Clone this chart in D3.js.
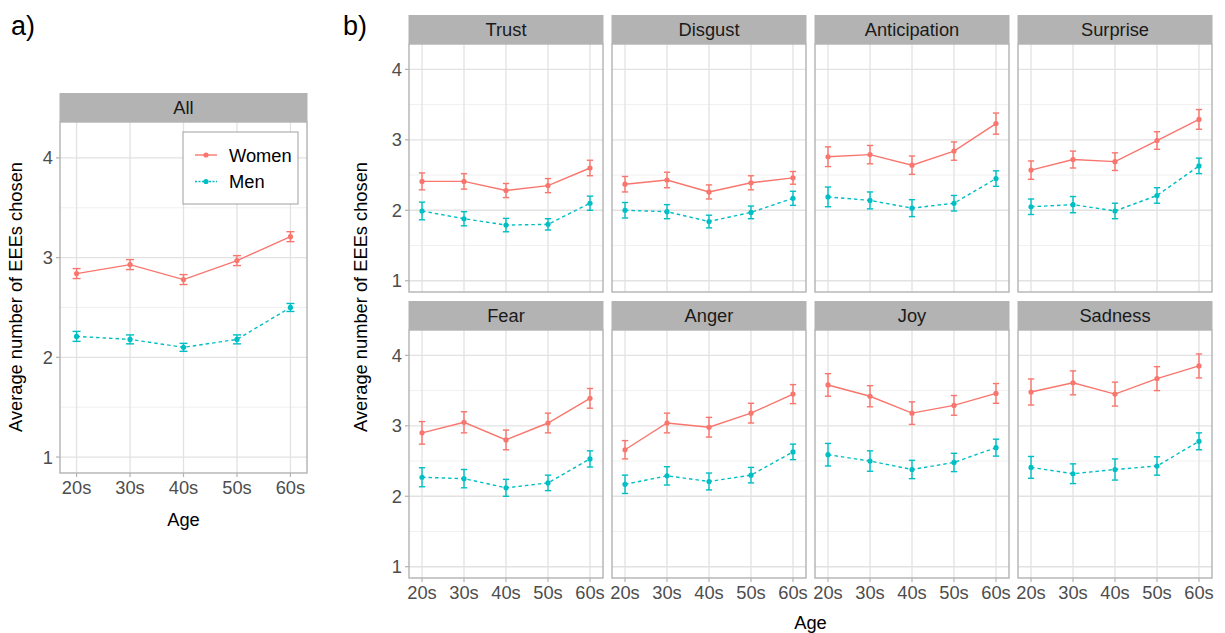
<!DOCTYPE html>
<html>
<head>
<meta charset="utf-8">
<script src="https://cdn.jsdelivr.net/npm/d3@7"></script>
<style>
  body { margin: 0; background: #fff; }
  svg text { font-family: "Liberation Sans", Arial, Helvetica, sans-serif; }
</style>
</head>
<body>
<div id="chart"></div>
<script>
// values
var ages = ["20s", "30s", "40s", "50s", "60s"];
var groups = ["Women", "Men"];
var yTicks = [1, 2, 3, 4];
var yMinor = [1.5, 2.5, 3.5];

var allWomen = [2.84, 2.93, 2.78, 2.97, 3.21];
var allWomenErr = [0.05, 0.05, 0.05, 0.05, 0.05];
var allMen = [2.21, 2.18, 2.10, 2.18, 2.50];
var allMenErr = [0.05, 0.045, 0.04, 0.045, 0.04];

var emotions = ["Trust", "Disgust", "Anticipation", "Surprise", "Fear", "Anger", "Joy", "Sadness"];
var womenMean = [
  [2.41, 2.41, 2.28, 2.35, 2.60],
  [2.37, 2.43, 2.26, 2.39, 2.46],
  [2.76, 2.79, 2.64, 2.84, 3.23],
  [2.57, 2.72, 2.69, 2.99, 3.29],
  [2.90, 3.05, 2.80, 3.04, 3.39],
  [2.66, 3.04, 2.98, 3.18, 3.45],
  [3.58, 3.42, 3.18, 3.29, 3.46],
  [3.48, 3.61, 3.45, 3.67, 3.85]
];
var womenErr = [
  [0.12, 0.11, 0.10, 0.10, 0.11],
  [0.11, 0.11, 0.10, 0.10, 0.09],
  [0.14, 0.13, 0.13, 0.13, 0.15],
  [0.13, 0.12, 0.125, 0.125, 0.14],
  [0.16, 0.15, 0.14, 0.14, 0.14],
  [0.13, 0.14, 0.14, 0.14, 0.135],
  [0.16, 0.15, 0.16, 0.14, 0.14],
  [0.185, 0.17, 0.17, 0.17, 0.17]
];
var menMean = [
  [1.99, 1.88, 1.79, 1.80, 2.10],
  [2.00, 1.98, 1.84, 1.97, 2.17],
  [2.19, 2.14, 2.03, 2.10, 2.45],
  [2.05, 2.08, 1.99, 2.21, 2.63],
  [2.27, 2.25, 2.12, 2.19, 2.53],
  [2.17, 2.29, 2.21, 2.30, 2.63],
  [2.59, 2.50, 2.38, 2.48, 2.69],
  [2.41, 2.32, 2.38, 2.43, 2.78]
];
var menErr = [
  [0.125, 0.10, 0.095, 0.08, 0.10],
  [0.11, 0.10, 0.09, 0.09, 0.10],
  [0.14, 0.12, 0.12, 0.11, 0.11],
  [0.11, 0.115, 0.11, 0.11, 0.11],
  [0.135, 0.13, 0.12, 0.11, 0.115],
  [0.13, 0.13, 0.12, 0.11, 0.11],
  [0.16, 0.145, 0.13, 0.13, 0.12],
  [0.155, 0.14, 0.15, 0.13, 0.12]
];

var color = d3.scaleOrdinal().domain(groups).range(["#F8766D", "#00BFC4"]);
var dash = { Women: null, Men: "3.5,3" };
var fontSize = 18.3;
var yDomain = [0.84, 4.36];

var svg = d3.select("#chart").append("svg")
  .attr("width", 1225)
  .attr("height", 633);

function series(means, errs) {
  return means.map(function(m, i) { return { age: ages[i], mean: m, err: errs[i] }; });
}

// one facet: strip on top, plot area below
function drawPanel(o) {
  var g = svg.append("g");
  var x = d3.scalePoint().domain(ages).range([o.x0, o.x1]).padding(0.31);
  var y = d3.scaleLinear().domain(yDomain).range([o.bottom, o.top]);

  g.append("rect")
    .attr("x", o.x0).attr("y", o.top)
    .attr("width", o.x1 - o.x0).attr("height", o.bottom - o.top)
    .attr("fill", "#fff");

  g.selectAll(".minor").data(yMinor).enter().append("line")
    .attr("x1", o.x0).attr("x2", o.x1)
    .attr("y1", y).attr("y2", y)
    .attr("stroke", "#ececec").attr("stroke-width", 0.8);
  g.selectAll(".majy").data(yTicks).enter().append("line")
    .attr("x1", o.x0).attr("x2", o.x1)
    .attr("y1", y).attr("y2", y)
    .attr("stroke", "#e2e2e2").attr("stroke-width", 1.3);
  g.selectAll(".majx").data(ages).enter().append("line")
    .attr("x1", x).attr("x2", x)
    .attr("y1", o.top).attr("y2", o.bottom)
    .attr("stroke", "#e2e2e2").attr("stroke-width", 1.3);

  // strip
  g.append("rect")
    .attr("x", o.x0 - 0.5).attr("y", o.stripTop)
    .attr("width", o.x1 - o.x0 + 1).attr("height", o.top - o.stripTop)
    .attr("fill", "#b3b3b3");
  g.append("text")
    .attr("x", (o.x0 + o.x1) / 2).attr("y", (o.stripTop + o.top) / 2)
    .attr("dy", "0.36em")
    .attr("text-anchor", "middle")
    .attr("font-size", fontSize)
    .attr("fill", "#1a1a1a")
    .text(o.title);

  var line = d3.line().x(function(d) { return x(d.age); }).y(function(d) { return y(d.mean); });
  var cap = x.step() * 0.075;

  o.data.forEach(function(s) {
    var c = color(s.group);
    g.append("path")
      .datum(s.values)
      .attr("d", line)
      .attr("fill", "none")
      .attr("stroke", c)
      .attr("stroke-width", 1.4)
      .attr("stroke-dasharray", dash[s.group]);

    var eb = g.selectAll(null).data(s.values).enter().append("g");
    eb.append("line")
      .attr("x1", function(d) { return x(d.age); }).attr("x2", function(d) { return x(d.age); })
      .attr("y1", function(d) { return y(d.mean - d.err); })
      .attr("y2", function(d) { return y(d.mean + d.err); })
      .attr("stroke", c).attr("stroke-width", 1.4);
    [-1, 1].forEach(function(sgn) {
      eb.append("line")
        .attr("x1", function(d) { return x(d.age) - cap; })
        .attr("x2", function(d) { return x(d.age) + cap; })
        .attr("y1", function(d) { return y(d.mean + sgn * d.err); })
        .attr("y2", function(d) { return y(d.mean + sgn * d.err); })
        .attr("stroke", c).attr("stroke-width", 1.4);
    });
    eb.append("circle")
      .attr("cx", function(d) { return x(d.age); })
      .attr("cy", function(d) { return y(d.mean); })
      .attr("r", 2.6)
      .attr("fill", c);
  });

  g.append("rect")
    .attr("x", o.x0).attr("y", o.top)
    .attr("width", o.x1 - o.x0).attr("height", o.bottom - o.top)
    .attr("fill", "none")
    .attr("stroke", "#b3b3b3").attr("stroke-width", 1.4);

  if (o.showY) {
    g.selectAll(".yt").data(yTicks).enter().append("line")
      .attr("x1", o.x0 - 4).attr("x2", o.x0)
      .attr("y1", y).attr("y2", y)
      .attr("stroke", "#b3b3b3").attr("stroke-width", 1.2);
    g.selectAll(".yl").data(yTicks).enter().append("text")
      .attr("x", o.x0 - 7).attr("y", y)
      .attr("dy", "0.36em")
      .attr("text-anchor", "end")
      .attr("font-size", fontSize)
      .attr("fill", "#4d4d4d")
      .text(function(d) { return d; });
  }
  if (o.showX) {
    g.selectAll(".xt").data(ages).enter().append("line")
      .attr("x1", x).attr("x2", x)
      .attr("y1", o.bottom).attr("y2", o.bottom + 4)
      .attr("stroke", "#b3b3b3").attr("stroke-width", 1.2);
    g.selectAll(".xl").data(ages).enter().append("text")
      .attr("x", x).attr("y", o.bottom + 21)
      .attr("text-anchor", "middle")
      .attr("font-size", fontSize)
      .attr("fill", "#4d4d4d")
      .text(function(d) { return d; });
  }
  return { x: x, y: y };
}

function yTitle(cx, cy) {
  svg.append("text")
    .attr("transform", "translate(" + cx + "," + cy + ") rotate(-90)")
    .attr("dy", "0.36em")
    .attr("text-anchor", "middle")
    .attr("font-size", fontSize)
    .attr("fill", "#000")
    .text("Average number of EEEs chosen");
}

/* panel a */
drawPanel({
  x0: 60, x1: 307, stripTop: 93, top: 122, bottom: 473,
  title: "All", showX: true, showY: true,
  data: [
    { group: "Women", values: series(allWomen, allWomenErr) },
    { group: "Men", values: series(allMen, allMenErr) }
  ]
});
yTitle(15, 297);
svg.append("text").attr("x", 183.5).attr("y", 526)
  .attr("text-anchor", "middle").attr("font-size", fontSize).text("Age");

// legend
var legend = svg.append("g");
legend.append("rect")
  .attr("x", 183).attr("y", 132).attr("width", 115).attr("height", 72)
  .attr("fill", "#fff").attr("stroke", "#a0a0a0").attr("stroke-width", 1);
groups.forEach(function(gr, i) {
  var ly = 155 + i * 26.5;
  legend.append("line")
    .attr("x1", 195).attr("x2", 217).attr("y1", ly).attr("y2", ly)
    .attr("stroke", color(gr)).attr("stroke-width", 1.4)
    .attr("stroke-dasharray", gr == "Men" ? "2,1.5" : null);
  legend.append("circle").attr("cx", 206).attr("cy", ly).attr("r", 2.6).attr("fill", color(gr));
  legend.append("text")
    .attr("x", 229).attr("y", ly).attr("dy", "0.36em")
    .attr("font-size", fontSize).attr("fill", "#000")
    .text(gr);
});

/* panel b */
var colX = [409, 612, 815, 1018];
var panelW = 194;
var rows = [
  { stripTop: 15, top: 44, bottom: 292 },
  { stripTop: 301, top: 330, bottom: 578 }
];
emotions.forEach(function(em, k) {
  var r = rows[Math.floor(k / 4)];
  var c = k % 4;
  drawPanel({
    x0: colX[c], x1: colX[c] + panelW,
    stripTop: r.stripTop, top: r.top, bottom: r.bottom,
    title: em, showX: k >= 4, showY: c == 0,
    data: [
      { group: "Women", values: series(womenMean[k], womenErr[k]) },
      { group: "Men", values: series(menMean[k], menErr[k]) }
    ]
  });
});
yTitle(360, 297);
svg.append("text").attr("x", 810.5).attr("y", 629)
  .attr("text-anchor", "middle").attr("font-size", fontSize).text("Age");

svg.append("text").attr("x", 11).attr("y", 35).attr("font-size", 27).text("a)");
svg.append("text").attr("x", 343).attr("y", 35).attr("font-size", 27).text("b)");
</script>
</body>
</html>
